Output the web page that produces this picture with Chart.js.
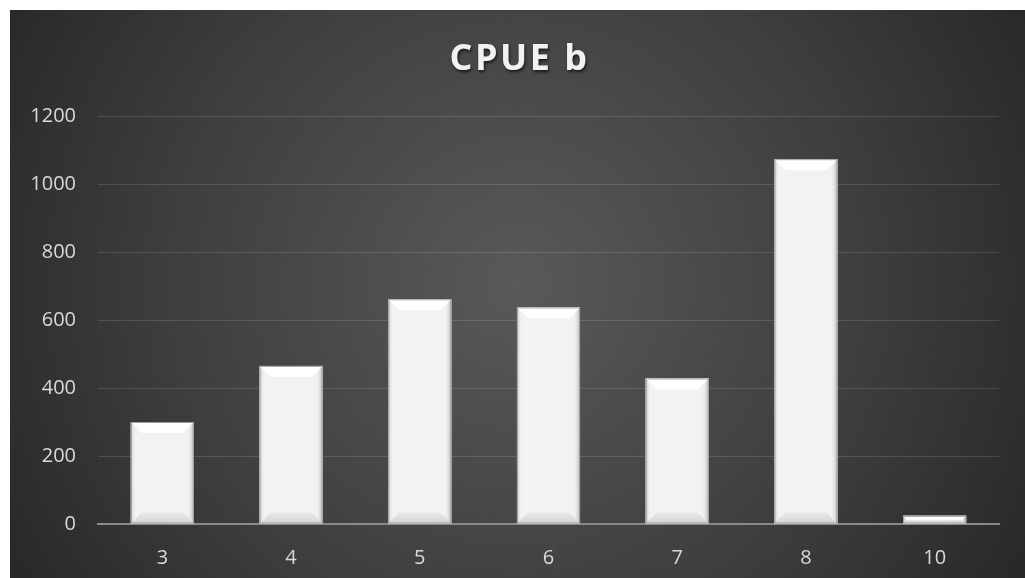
<!DOCTYPE html>
<html>
<head>
<meta charset="utf-8">
<title>CPUE b</title>
<script src="https://cdn.jsdelivr.net/npm/chart.js@4"></script>
<style>
  html, body { margin: 0; padding: 0; background: #ffffff; }
  #wrap { position: absolute; left: 10px; top: 10px; width: 1015px; height: 568px; }
  canvas { display: block; }
</style>
</head>
<body>
<div id="wrap"><canvas id="chart" width="1015" height="568"></canvas></div>
<script>
// Categories and values
const categories = ['3', '4', '5', '6', '7', '8', '10'];
const cpueValues = [300, 465, 661, 637, 428, 1073, 24];
const yTicks = [0, 200, 400, 600, 800, 1000, 1200];
const chartTitle = 'CPUE b';

const FONT = '"Open Sans", "Liberation Sans", sans-serif';

// Dark radial backdrop
const backdrop = {
  id: 'backdrop',
  beforeDraw(chart) {
    const { ctx, width, height } = chart;
    const g = ctx.createRadialGradient(width * 0.5, height * 0.48, 0, width * 0.5, height * 0.48, width * 0.62);
    g.addColorStop(0, '#595959');
    g.addColorStop(0.55, '#3e3e3e');
    g.addColorStop(1, '#242424');
    ctx.save();
    ctx.fillStyle = g;
    ctx.fillRect(0, 0, width, height);
    ctx.restore();
  }
};

// Title with a soft drop shadow
const shadowTitle = {
  id: 'shadowTitle',
  afterDraw(chart) {
    const { ctx, width } = chart;
    ctx.save();
    ctx.font = 'bold 36px ' + FONT;
    try { ctx.letterSpacing = '2.5px'; } catch (e) {}
    ctx.textAlign = 'center';
    ctx.textBaseline = 'alphabetic';
    ctx.shadowColor = 'rgba(0,0,0,0.65)';
    ctx.shadowOffsetX = 1;
    ctx.shadowOffsetY = 2;
    ctx.shadowBlur = 3;
    ctx.fillStyle = '#f2f2f2';
    ctx.fillText(chartTitle, width / 2 + 2, 60);
    ctx.restore();
  }
};

// Bevelled look for each bar, using the bar elements' own geometry
const bevel = {
  id: 'bevel',
  afterDatasetsDraw(chart) {
    const { ctx } = chart;
    const meta = chart.getDatasetMeta(0);
    meta.data.forEach(bar => {
      const { x, y, base, width } = bar.getProps(['x', 'y', 'base', 'width'], true);
      const l = x - width / 2, r = x + width / 2, t = Math.min(y, base), b = Math.max(y, base);
      const h = b - t;
      const bv = Math.min(11, h / 2);
      ctx.save();
      // base face
      ctx.fillStyle = '#f3f2f2';
      ctx.fillRect(l, t, r - l, h);
      // left edge
      let g = ctx.createLinearGradient(l, 0, l + 5, 0);
      g.addColorStop(0, '#c4c4c4');
      g.addColorStop(1, 'rgba(243,242,242,0)');
      ctx.fillStyle = g;
      ctx.fillRect(l, t, 5, h);
      // right edge
      g = ctx.createLinearGradient(r - 7, 0, r, 0);
      g.addColorStop(0, 'rgba(243,242,242,0)');
      g.addColorStop(1, '#b8b8b8');
      ctx.fillStyle = g;
      ctx.fillRect(r - 7, t, 7, h);
      // bottom bevel
      g = ctx.createLinearGradient(0, b - bv, 0, b);
      g.addColorStop(0, '#e9e9e9');
      g.addColorStop(1, '#d4d4d4');
      ctx.fillStyle = g;
      ctx.beginPath();
      ctx.moveTo(l, b); ctx.lineTo(r, b); ctx.lineTo(r - bv, b - bv); ctx.lineTo(l + bv, b - bv); ctx.closePath();
      ctx.fill();
      // top bevel
      ctx.fillStyle = '#ffffff';
      ctx.beginPath();
      ctx.moveTo(l, t); ctx.lineTo(r, t); ctx.lineTo(r - bv, t + bv); ctx.lineTo(l + bv, t + bv); ctx.closePath();
      ctx.fill();
      // outline
      ctx.strokeStyle = 'rgba(150,150,150,0.9)';
      ctx.lineWidth = 1;
      ctx.strokeRect(l + 0.5, t + 0.5, r - l - 1, h - 1);
      ctx.restore();
    });
  }
};

new Chart(document.getElementById('chart'), {
  type: 'bar',
  data: {
    labels: categories,
    datasets: [{
      label: chartTitle,
      data: cpueValues,
      backgroundColor: '#f3f2f2',
      borderWidth: 0,
      categoryPercentage: 1,
      barPercentage: 0.49
    }]
  },
  options: {
    responsive: false,
    animation: false,
    layout: { padding: { top: 106, right: 26, left: 0, bottom: 0 } },
    plugins: {
      legend: { display: false },
      title: { display: false },
      tooltip: { enabled: false }
    },
    scales: {
      x: {
        grid: { display: false, drawTicks: false },
        border: { display: true, color: '#8a8a8a', width: 2 },
        ticks: { color: '#d9d9d9', font: { family: FONT, size: 20 }, padding: 22 },
        afterFit(scale) { scale.height = 54; }
      },
      y: {
        min: 0,
        max: 1200,
        afterBuildTicks(scale) { scale.ticks = yTicks.map(v => ({ value: v })); },
        grid: { color: 'rgba(255,255,255,0.13)', lineWidth: 1, drawTicks: false },
        border: { display: false },
        ticks: {
          color: '#d9d9d9',
          font: { family: FONT, size: 20 },
          padding: 22,
          callback: v => String(v)
        },
        afterFit(scale) { scale.width = 88; }
      }
    }
  },
  plugins: [backdrop, bevel, shadowTitle]
});
</script>
</body>
</html>
